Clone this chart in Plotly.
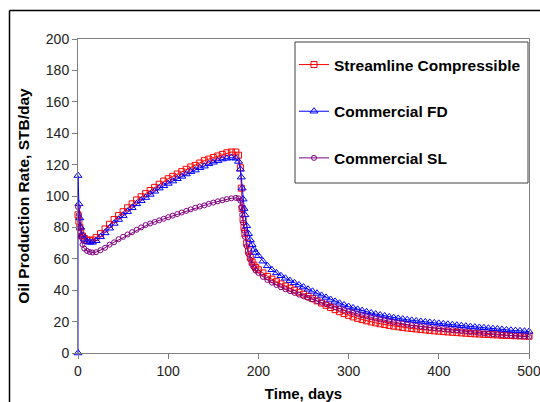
import plotly.graph_objects as go

# ---- data ----
time_days = [0, 1, 2, 3, 5, 7, 10, 13, 16, 20,
             25, 30, 35, 40, 45, 50, 55, 60, 65, 70, 75, 80, 85, 90, 95, 100,
             105, 110, 115, 120, 125, 130, 135, 140, 145, 150, 155, 160, 165, 170, 175,
             178, 180, 181, 182, 183, 184, 185, 187, 189, 191, 193, 195, 197,
             200, 205, 210, 215, 220, 225, 230, 235, 240, 245, 250, 255, 260, 265, 270,
             275, 280, 285, 290, 295, 300, 305, 310, 315, 320, 325, 330, 335, 340, 345,
             350, 355, 360, 365, 370, 375, 380, 385, 390, 395, 400, 405, 410, 415, 420,
             425, 430, 435, 440, 445, 450, 455, 460, 465, 470, 475, 480, 485, 490, 495, 500]

streamline_compressible = [88, 84, 80, 77.5, 74.5, 73, 72, 71.5, 72, 73.5,
                           76, 79, 82, 85, 87.5, 90, 92.5, 95, 97.5, 99.5, 101.5, 103.5, 105.5, 107.5, 109.5, 111,
                           112.5, 114, 115.5, 117, 118.5, 119.5, 121, 122.5, 123.5, 124.5, 125.5, 126.5, 127.5, 128, 128,
                           126, 118, 105, 92, 85, 80, 76, 70, 65, 61, 58, 56, 54.5,
                           53, 51, 48.8, 47, 45.4, 44, 42.6, 41.3, 40, 38.7, 37.4, 36, 34.6, 33.2, 31.8,
                           30.4, 29, 27.6, 26.3, 25.1, 24, 23, 22.1, 21.3, 20.5, 19.8, 19.2, 18.6, 18.1, 17.6,
                           17.1, 16.7, 16.3, 15.9, 15.6, 15.3, 15, 14.7, 14.4, 14.1, 13.9, 13.6, 13.4, 13.2, 13,
                           12.8, 12.6, 12.4, 12.2, 12.1, 11.9, 11.8, 11.6, 11.5, 11.3, 11.2, 11.1, 11, 10.9, 10.8, 10.7]

commercial_fd_start_t = [0]
commercial_fd_start_v = [0]
commercial_fd = [113, 95, 86, 80, 75, 72.5, 71, 70.5, 70.5, 71.5,
                 74, 76.5, 79.5, 82.5, 85, 87.5, 90, 92.5, 95, 97, 99, 101, 103, 105, 106.5, 108,
                 109.5, 111, 112.5, 114, 115.5, 116.5, 118, 119, 120.5, 121.5, 122.5, 123.5, 124, 124.5, 124,
                 122, 117, 112, 105, 98, 92, 88, 81, 76, 72, 69, 66, 64,
                 62, 58.5, 55.5, 53, 51, 49.2, 47.6, 46.1, 44.7, 43.3, 42, 40.6, 39.3, 38, 36.7,
                 35.4, 34.1, 32.9, 31.7, 30.6, 29.6, 28.7, 27.8, 27, 26.2, 25.5, 24.8, 24.2, 23.6, 23,
                 22.5, 22, 21.6, 21.2, 20.8, 20.4, 20.1, 19.8, 19.5, 19.2, 18.9, 18.6, 18.3, 18, 17.7,
                 17.4, 17.1, 16.8, 16.5, 16.3, 16.1, 15.8, 15.5, 15.3, 15, 14.7, 14.5, 14.3, 14.1, 13.9, 13.7]

commercial_sl = [93, 88, 80, 74, 69, 66.5, 65, 64.3, 64, 64.2,
                 65.5, 67, 69, 70.5, 72.5, 74, 75.5, 77, 78.5, 80, 81.5, 82.5, 83.5, 84.5, 85.5, 86.5,
                 87.5, 88.5, 89.5, 90.5, 91.5, 92.5, 93.3, 94, 95, 95.8, 96.6, 97.3, 98, 98.5, 98.8,
                 98.5, 97, 93, 88, 83, 78, 74, 68, 63, 59.5, 56.5, 54.5, 52.5,
                 51, 48.5, 46.5, 44.8, 43.3, 41.9, 40.6, 39.4, 38.3, 37.2, 36.1, 35.1, 34.1, 33.1, 32.1,
                 31.1, 30.1, 29.2, 28.3, 27.4, 26.5, 25.7, 24.9, 24.1, 23.4, 22.7, 22, 21.4, 20.8, 20.2,
                 19.6, 19.1, 18.6, 18.1, 17.7, 17.3, 16.9, 16.5, 16.1, 15.8, 15.5, 15.2, 14.9, 14.6, 14.3,
                 14, 13.7, 13.4, 13.1, 12.8, 12.5, 12.2, 12, 11.8, 11.5, 11.3, 11.1, 10.9, 10.7, 10.5, 10.3]

series_names = ["Streamline Compressible", "Commercial FD", "Commercial SL"]
x_ticks = [0, 100, 200, 300, 400, 500]
y_ticks = [0, 20, 40, 60, 80, 100, 120, 140, 160, 180, 200]

FONT = "Arial, Liberation Sans, sans-serif"

fig = go.Figure()
fig.add_trace(go.Scatter(
    x=time_days, y=streamline_compressible, name=series_names[0], mode="lines+markers",
    line=dict(color="#FF0000", width=1),
    marker=dict(symbol="square-open", size=6, color="#FF0000", line=dict(width=1)),
    legendgroup="a", cliponaxis=False))
fig.add_trace(go.Scatter(
    x=commercial_fd_start_t + time_days, y=commercial_fd_start_v + commercial_fd,
    name=series_names[1], mode="lines+markers",
    line=dict(color="#0000FF", width=1),
    marker=dict(symbol="triangle-up-open", size=7, color="#0000FF", line=dict(width=1)),
    legendgroup="b", cliponaxis=False))
fig.add_trace(go.Scatter(
    x=time_days, y=commercial_sl, name=series_names[2], mode="lines+markers",
    line=dict(color="#800080", width=1),
    marker=dict(symbol="circle-open", size=5, color="#800080", line=dict(width=1)),
    legendgroup="c", cliponaxis=False))

L, R, T, B = 78, 11, 39, 49
W, H = 540, 402
pw, ph = W - L - R, H - T - B

def px_x(p):
    return (p - L) / pw

def px_y(p):
    return (H - B - p) / ph

fig.update_layout(
    width=W, height=H,
    margin=dict(l=L, r=R, t=T, b=B, pad=0, autoexpand=False),
    paper_bgcolor="white", plot_bgcolor="white",
    font=dict(family=FONT, size=13, color="#222222"),
    showlegend=True,
    legend=dict(
        x=px_x(294), y=px_y(48), xanchor="left", yanchor="top",
        bgcolor="rgba(0,0,0,0)", borderwidth=0,
        font=dict(family=FONT, size=15.5, color="#000000", weight="bold"),
        tracegroupgap=23.5, itemwidth=30,
    ),
    xaxis=dict(
        range=[0, 500], tickvals=x_ticks, ticks="outside", ticklen=5, tickcolor="#808080",
        showline=True, linecolor="#808080", linewidth=1, mirror=True,
        showgrid=False, zeroline=False, automargin=False, ticklabeloverflow="allow",
        tickfont=dict(size=14, color="#222222"),
        title=dict(text="Time, days", font=dict(size=15, weight="bold", color="#000000"), standoff=12),
    ),
    yaxis=dict(
        range=[0, 200], tickvals=y_ticks, ticks="outside", ticklen=5, tickcolor="#808080",
        showline=True, linecolor="#808080", linewidth=1, mirror=True,
        showgrid=False, zeroline=False, automargin=False, ticklabeloverflow="allow",
        tickfont=dict(size=14, color="#222222"),
        title=dict(text="Oil Production Rate, STB/day", font=dict(size=15.5, weight="bold", color="#000000"), standoff=12),
    ),
    shapes=[
        # outer chart frame (left and top edges visible in the crop)
        dict(type="line", xref="paper", yref="paper",
             x0=px_x(9.5), x1=px_x(9.5), y0=px_y(402), y1=px_y(10.5),
             line=dict(color="#000000", width=1.5), layer="above"),
        dict(type="line", xref="paper", yref="paper",
             x0=px_x(9.5), x1=px_x(540), y0=px_y(10.5), y1=px_y(10.5),
             line=dict(color="#000000", width=1.5), layer="above"),
        # legend box
        dict(type="rect", xref="paper", yref="paper",
             x0=px_x(295), x1=px_x(528), y0=px_y(183), y1=px_y(42),
             line=dict(color="#404040", width=1), fillcolor="white", layer="below"),
    ],
)

fig.write_html("out.html")
